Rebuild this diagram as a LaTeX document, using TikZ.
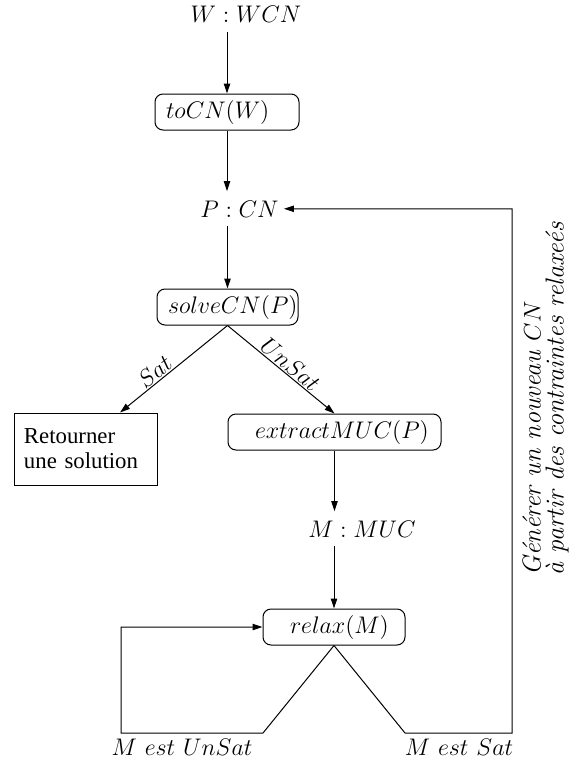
\documentclass[tikz,border=0pt]{standalone}
\usepackage{fontspec}
\newfontfamily\timesf{Liberation Serif}
\usetikzlibrary{arrows.meta,calc}
\begin{document}
\begin{tikzpicture}[x=0.5pt,y=-0.5pt,
  mfont/.style={font=\fontsize{12.3}{14}\selectfont},
  txt/.style={mfont, inner xsep=2.5pt, inner ysep=4.5pt, anchor=base},
  rbox/.style={draw, rounded corners=4pt, line width=0.5pt, mfont, inner sep=0pt, align=left, minimum height=18pt},
  sbox/.style={draw, line width=0.5pt, inner sep=0pt, align=left, minimum height=36pt, font=\timesf\fontsize{11.4}{12.5}\selectfont},
  arr/.style={line width=0.5pt, -{Triangle[length=5pt,width=3.2pt]}},
  lbl/.style={mfont, sloped, above, inner sep=0.6pt},
  blbl/.style={mfont, anchor=base, inner sep=0pt}]
\useasboundingbox (0,0) rectangle (587,760);

% text nodes
\node[txt] (W) at (246,23) {$W:WCN$};
\node[txt] (P) at (239.5,217) {$P:CN$};
\node[txt] (M) at (362,537) {$M:MUC$};

% boxes
\node[rbox, text width=72pt] (toCN) at (227,112) {\hspace*{5.5pt}$toCN(W)$};
\node[rbox, text width=70.5pt] (solveCN) at (227.5,307) {\hspace*{5.5pt}$solveCN(P)$};
\node[rbox, text width=106.5pt] (extract) at (334.5,432) {\hspace*{13.5pt}$extractMUC(P)$};
\node[rbox, text width=71pt] (relax) at (334,627) {\hspace*{13.5pt}$relax(M)$};
\node[sbox, text width=71.5pt] (ret) at (85.5,449) {\hspace*{5pt}Retourner\\\hspace*{5pt}une solution};

% bottom labels
\node[blbl] (lu) at (182,755) {$M\ est\ UnSat$};
\node[blbl] (ls) at (459,755) {$M\ est\ Sat$};

% rotated text
\node[rotate=90, anchor=south west, inner sep=0pt, align=left,
      font=\itshape\fontsize{13}{11.5}\selectfont] (gen) at (569,576)
  {Générer un nouveau $CN$\\à partir des contraintes relaxeés};

% corner coordinates
\coordinate (u1) at (263,733);
\coordinate (u2) at (121,733);
\coordinate (s1) at (405,733);
\coordinate (s2) at (512,733);

% connectors
\draw[arr] (toCN.north |- W.south) -- (toCN.north);
\draw[arr] (toCN.south) -- (toCN.south |- P.north);
\draw[arr] (solveCN.north |- P.south) -- (solveCN.north);
\draw[arr] (solveCN.south) -- node[lbl,pos=0.62]{$Sat$} ($(ret.north west)!0.74!(ret.north east)$);
\draw[arr] (solveCN.south) -- node[lbl,pos=0.53]{$UnSat$} (extract.north);
\draw[arr] (extract.south) -- (extract.south |- M.north);
\draw[arr] (relax.north |- M.south) -- (relax.north);
\draw[arr] (relax.south) -- (u1) -- (u2) -- (u2 |- relax.west) -- (relax.west);
\draw[arr] (relax.south) -- (s1) -- (s2) -- (s2 |- P.east) -- (P.east);
\end{tikzpicture}
\end{document}
